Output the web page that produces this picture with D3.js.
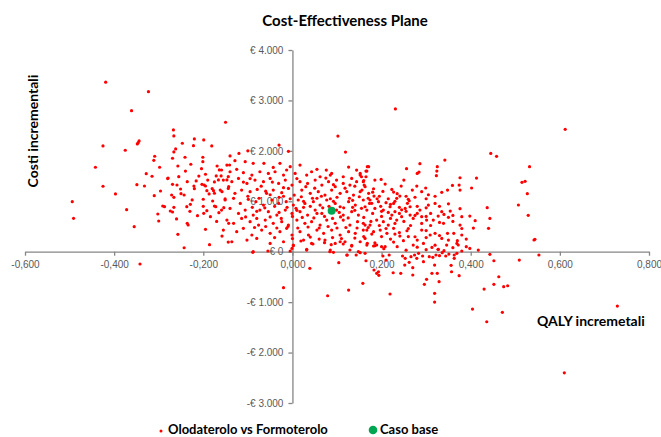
<!DOCTYPE html>
<html><head><meta charset="utf-8">
<script src="https://cdn.jsdelivr.net/npm/d3@7"></script>
<style>body{margin:0;background:#fff}svg{display:block}</style>
</head><body>
<svg id="chart" width="661" height="437"></svg>
<script>
const chartTitle = "Cost-Effectiveness Plane";
const yAxisTitle = "Costi incrementali";
const xAxisTitle = "QALY incremetali";
const seriesNames = ["Olodaterolo vs Formoterolo", "Caso base"];
const xTickValues = [-0.6, -0.4, -0.2, 0, 0.2, 0.4, 0.6, 0.8];
const xTickLabels = ["-0,600", "-0,400", "-0,200", "0,000", "0,200", "0,400", "0,600", "0,800"];
const yTickValues = [4000, 3000, 2000, 1000, 0, -1000, -2000, -3000];
const yTickLabels = ["€ 4.000", "€ 3.000", "€ 2.000", "€ 1.000", "€ 0", "-€ 1.000", "-€ 2.000", "-€ 3.000"];
const baseCase = [[0.088, 810]];
// PSA simulations: [incremental QALY, incremental cost]
const psaPoints = [
[-0.419,3361],[-0.323,3174],[-0.361,2797],[-0.150,2567],[-0.267,2415],[-0.266,2296],[-0.220,2236],[-0.199,2216],[-0.247,2151],[-0.344,2196],[-0.348,2137],[-0.346,2163],[-0.425,2097],[-0.222,2103],[-0.181,2097],[-0.262,2038],[-0.375,2012],[-0.266,1978],[-0.309,1893],[-0.241,1873],[-0.201,1873],[-0.311,1813],[-0.269,1853],[-0.228,1734],[-0.201,1786],[-0.257,1700],[-0.298,1675],[-0.442,1675],[-0.204,1647],[-0.169,1700],[-0.141,1720],[-0.328,1548],[-0.195,1536],[-0.164,1621],[-0.315,1496],[-0.279,1462],[-0.255,1488],[-0.171,1502],[-0.160,1502],[-0.166,1423],[-0.144,1488],[-0.236,1389],[-0.216,1403],[-0.269,1337],[-0.259,1323],[-0.221,1303],[-0.203,1337],[-0.198,1323],[-0.195,1303],[-0.175,1383],[-0.147,1423],[-0.425,1298],[-0.349,1329],[-0.332,1303],[-0.251,1244],[-0.143,1290],[-0.296,1204],[-0.192,1210],[-0.177,1210],[-0.175,1159],[-0.158,1190],[-0.397,1145],[-0.310,1111],[-0.271,1125],[-0.266,1079],[-0.243,1125],[-0.187,1145],[-0.494,992],[-0.225,1026],[-0.200,1040],[-0.179,1006],[-0.151,1046],[-0.266,881],[-0.291,907],[-0.287,893],[-0.237,893],[-0.229,940],[-0.175,907],[-0.172,893],[-0.154,873],[-0.372,833],[-0.274,807],[-0.269,788],[-0.192,813],[-0.199,762],[-0.165,774],[-0.302,748],[-0.213,714],[-0.184,694],[-0.491,663],[-0.300,609],[-0.236,563],[-0.234,530],[-0.143,563],[-0.355,496],[-0.195,444],[-0.257,345],[-0.158,311],[-0.186,139],[-0.144,192],[-0.243,79],[-0.342,-244],[-0.089,-12],[-0.055,14],
[-0.005,14],[0.002,119],[0.019,212],[0.039,-329],[0.032,48],[0.046,153],[-0.020,-714],[0.079,-873],[0.072,179],[0.084,0],[0.087,139],[0.104,-218],[0.092,-12],[0.107,198],[0.114,153],[0.123,-65],[0.126,-760],[0.129,34],[0.133,127],[0.143,-65],[0.152,-20],[0.158,-627],[0.163,-32],[0.165,-179],[0.168,167],[0.182,113],[0.189,133],[0.200,99],[0.183,-363],[0.189,-429],[0.194,-468],[0.193,-397],[0.203,-85],[0.210,-165],[0.217,-65],[0.219,-839],[0.226,-417],[0.243,-429],[0.247,-85],[0.253,-131],[0.252,-264],[0.262,-210],[0.266,-99],[0.274,-65],[0.279,-131],[0.270,-317],[0.270,-462],[0.283,-32],[0.292,-85],[0.294,-198],[0.296,-647],[0.301,-548],[0.307,-99],[0.315,-111],[0.313,-429],[0.319,-264],[0.319,-825],[0.319,-998],[0.325,-429],[0.327,48],[0.336,-20],[0.329,-595],[0.322,-65],[0.330,-79],[0.344,-85],[0.351,-46],[0.356,-270],[0.357,-397],[0.363,-65],[0.363,-131],[0.369,-32],[0.372,133],[0.370,218],[0.374,-476],[0.380,14],[0.404,-1137],[0.430,-740],[0.436,-1389],[0.443,-52],[0.452,-179],[0.452,-647],[0.463,-496],[0.471,-1202],[0.474,-694],[0.483,-675],[0.509,-165],[0.542,232],[0.553,-65],[0.729,-1077],[0.610,-2401],
[0.102,2294],[-0.030,2115],[0.119,1976],[-0.009,1990],[0.171,1686],
[-0.129,1805],[-0.106,1785],[-0.088,1752],[-0.147,1719],[-0.064,1752],[-0.043,1672],[-0.028,1752],[-0.005,1686],[0.017,1719],[0.055,1633],[0.076,1619],[0.088,1553],[0.144,1619],[0.167,1600],[0.126,1679],
[-0.159,1620],[-0.140,1586],[-0.125,1633],[-0.110,1567],[-0.091,1520],[-0.073,1586],[-0.054,1553],[-0.039,1586],[-0.020,1520],[-0.013,1620],[0.006,1553],[0.032,1520],[0.043,1586],[0.062,1487],[0.085,1520],[0.099,1421],[0.114,1487],[0.133,1454],[0.152,1520],[0.165,1487],
[-0.155,1421],[-0.136,1388],[-0.121,1454],[-0.102,1355],[-0.084,1421],[-0.065,1388],[-0.050,1454],[-0.031,1355],[-0.016,1421],[-0.001,1322],[0.017,1388],[0.034,1355],[0.051,1421],[0.066,1322],[0.081,1388],[0.096,1289],[0.114,1355],[0.129,1322],[0.144,1388],[0.161,1322],
[-0.162,1223],[-0.144,1256],[-0.129,1157],[-0.114,1223],[-0.095,1190],[-0.079,1236],[-0.058,1157],[-0.043,1223],[-0.024,1170],[-0.009,1256],[0.004,1124],[0.021,1223],[0.040,1157],[0.058,1190],[0.073,1124],[0.088,1223],[0.107,1157],[0.122,1190],[0.137,1124],[0.156,1223],[0.171,1157],
[-0.151,1025],[-0.132,1058],[-0.117,958],[-0.099,1038],[-0.082,992],[-0.065,925],[-0.046,1025],[-0.031,958],[-0.014,992],[0.002,925],[0.013,1025],[0.028,958],[0.047,992],[0.062,925],[0.077,1025],[0.096,958],[0.107,892],[0.126,992],[0.141,925],[0.159,1025],[0.173,958],
[-0.159,826],[-0.140,859],[-0.121,760],[-0.106,826],[-0.088,727],[-0.073,826],[-0.054,793],[-0.035,727],[-0.016,826],[-0.001,760],[0.017,793],[0.034,727],[0.051,826],[0.066,760],[0.099,826],[0.114,727],[0.133,793],[0.148,727],[0.167,826],
[-0.147,628],[-0.132,562],[-0.114,661],[-0.095,595],[-0.076,529],[-0.061,628],[-0.043,562],[-0.024,595],[-0.009,529],[0.010,628],[0.028,562],[0.043,595],[0.062,529],[0.077,628],[0.096,562],[0.114,628],[0.129,529],[0.146,595],[0.163,529],
[-0.155,430],[-0.125,397],[-0.110,463],[-0.091,331],[-0.069,430],[-0.050,364],[-0.028,397],[-0.013,463],[-0.001,331],[0.017,397],[0.036,331],[0.055,430],[0.070,364],[0.088,430],[0.107,331],[0.126,397],[0.141,364],[0.159,430],
[-0.136,198],[-0.102,231],[-0.080,264],[-0.050,165],[-0.020,198],[0.002,132],[0.025,231],[0.043,165],[0.073,231],[0.096,165],[0.118,198],[0.133,112],[0.152,198],[0.167,132],
[-0.088,0],[-0.001,66],[0.032,33],[0.085,33],[0.122,-66],[0.148,0],
[0.445,1950],[0.458,1891],[0.286,1745],[0.342,1818],[0.256,1646],[0.280,1553],[0.284,1580],[0.325,1686],[0.324,1600],[0.323,1507],[0.168,1686],[0.165,1600],[0.413,1461],[0.376,1467],
[0.152,1553],[0.155,1487],[0.159,1388],[0.163,1289],[0.152,1190],[0.185,1421],[0.199,1434],[0.208,1342],[0.182,1249],[0.203,1196],[0.183,1104],[0.223,1236],[0.227,1183],[0.244,1302],[0.250,1421],[0.279,1302],[0.269,1223],[0.290,1190],[0.299,1263],[0.305,1130],[0.335,1177],[0.348,1223],[0.359,1315],[0.374,1322],[0.376,1223],[0.402,1263],[0.262,1011],[0.241,1104],[0.234,1058],[0.227,958],[0.210,972],[0.193,992],[0.174,1025],[0.163,892],[0.185,859],[0.204,826],[0.219,892],[0.230,793],[0.253,859],[0.264,892],[0.286,826],[0.305,925],[0.320,958],[0.335,793],[0.354,806],[0.376,853],[0.380,694],[0.398,707],[0.410,615],[0.437,873],[0.443,661],[0.440,463],[0.406,469],[0.376,529],[0.350,681],[0.339,562],[0.327,707],[0.316,628],[0.301,628],[0.290,694],[0.271,661],[0.264,727],[0.245,694],[0.234,628],[0.223,727],[0.215,529],[0.204,595],[0.189,628],[0.174,529],[0.159,562],[0.167,430],[0.182,397],[0.197,430],[0.212,364],[0.227,463],[0.241,311],[0.257,416],[0.275,297],[0.290,430],[0.309,331],[0.320,364],[0.335,264],[0.348,364],[0.362,364],[0.380,331],[0.163,264],[0.185,178],[0.208,99],[0.227,192],[0.249,218],[0.271,132],[0.294,165],[0.313,86],[0.327,46],[0.346,132],[0.369,165],[0.398,66],[0.417,33],
[0.532,1686],[0.515,1376],[0.522,1396],[0.527,1151],[0.507,926],[0.529,721],[0.544,245],[0.231,2831],[0.612,2427],
[-0.095,1450],[-0.070,1300],[-0.045,1380],[-0.020,1270],[0.010,1450],[0.030,1290],[0.050,1260],[0.075,1460],[0.092,1330],[0.118,1260],[0.140,1300],[0.160,1410],
[-0.100,1100],[-0.075,1060],[-0.050,1130],[-0.030,1080],[-0.005,1050],[0.020,1090],[0.045,1060],[0.065,1100],[0.085,1050],[0.100,1080],[0.128,1060],[0.150,1090],[0.170,1060],
[-0.090,880],[-0.062,870],[-0.040,900],[-0.012,880],[0.008,860],[0.025,880],[0.040,900],[0.068,870],[0.082,900],[0.115,870],[0.135,880],[0.155,860],
[-0.105,690],[-0.080,660],[-0.050,690],[-0.025,660],[0.000,700],[0.022,680],[0.048,670],[0.072,700],[0.090,660],[0.108,690],[0.125,670],[0.160,680],
[-0.085,480],[-0.060,500],[-0.035,470],[-0.010,500],[0.012,470],[0.035,490],[0.060,470],[0.080,500],[0.100,470],[0.120,480],[0.145,470],[0.170,480],
[-0.040,280],[0.000,260],[0.040,290],[0.060,250],[0.090,280],[0.110,260],[0.140,270],[0.160,300],
[0.180,1180],[0.195,1100],[0.215,1050],[0.235,1150],[0.255,1100],[0.275,1080],[0.300,1050],[0.320,1100],
[0.178,960],[0.198,900],[0.220,940],[0.240,880],[0.258,960],[0.280,900],[0.300,870],[0.330,900],[0.350,950],
[0.180,760],[0.200,700],[0.215,780],[0.240,760],[0.255,800],[0.280,760],[0.310,760],[0.340,740],[0.360,720],
[0.176,600],[0.195,520],[0.230,560],[0.250,600],[0.265,520],[0.290,560],[0.310,520],[0.330,580],[0.360,600],[0.380,460],
[0.178,350],[0.200,300],[0.220,250],[0.240,380],[0.260,300],[0.280,230],[0.300,280],[0.330,320],[0.350,230],[0.390,250],
[0.185,120],[0.205,60],[0.235,100],[0.255,30],[0.280,90],[0.300,40],[0.320,130],[0.340,20],[0.360,80],[0.390,100],
[-0.280,1450],[-0.240,1600],[-0.210,1500],[-0.190,1420],[-0.250,1150],[-0.220,1250],[-0.200,900],[-0.230,800],[-0.260,650],[-0.170,600],[-0.180,1250],[-0.120,1950],[-0.100,2000],[-0.140,1900],
[-0.110,1380],[-0.060,1200],[-0.020,1100],[0.025,1000],[0.055,1060],[0.092,1000],[0.135,1020],[-0.080,800],[-0.030,780],[0.010,820],[0.055,760],[0.105,780],[0.140,820],[0.190,1050],[0.230,1000],[0.260,1040],[0.200,800],[0.245,830],[0.275,720],[0.220,660],[0.300,700],[0.260,460],[0.300,420],[0.210,460],[0.230,350]
];

const svg = d3.select("#chart");
const x = d3.scaleLinear().domain([-0.6, 0.8]).range([25, 649]);
const y = d3.scaleLinear().domain([-3000, 4000]).range([403, 50]);
const axisColor = "#868686", labelColor = "#595959";
const tickFont = "'Liberation Sans', Arial, sans-serif";
const boldFont = "Lato, 'Open Sans', sans-serif";

// title
svg.append("text").attr("x", 345).attr("y", 26).attr("text-anchor", "middle")
  .attr("font-family", boldFont).attr("font-weight", "bold").attr("font-size", 15)
  .attr("fill", "#000").text(chartTitle);

// x axis (at cost = 0)
const xAxis = d3.axisBottom(x).tickValues(xTickValues)
  .tickFormat((d, i) => xTickLabels[i]).tickSizeOuter(0).tickSizeInner(4).tickPadding(5);
const gx = svg.append("g").attr("transform", `translate(0,${y(0)})`).call(xAxis);
// y axis (at QALY = 0)
const yAxis = d3.axisLeft(y).tickValues(yTickValues)
  .tickFormat((d, i) => yTickLabels[i]).tickSizeOuter(0).tickSizeInner(4).tickPadding(5);
const gy = svg.append("g").attr("transform", `translate(${x(0)},0)`).call(yAxis);
[gx, gy].forEach(g => {
  g.select(".domain").attr("stroke", axisColor).attr("stroke-width", 1.3);
  g.selectAll(".tick line").attr("stroke", axisColor).attr("stroke-width", 1.3);
  g.selectAll(".tick text").attr("fill", labelColor).attr("font-family", tickFont).attr("font-size", 10);
});

// axis titles
svg.append("text").attr("transform", `translate(38,131) rotate(-90)`).attr("text-anchor", "middle")
  .attr("font-family", boldFont).attr("font-weight", "bold").attr("font-size", 14).attr("fill", "#000")
  .text(yAxisTitle);
svg.append("text").attr("x", 537).attr("y", 326)
  .attr("font-family", boldFont).attr("font-weight", "bold").attr("font-size", 14).attr("fill", "#000")
  .text(xAxisTitle);

// points
svg.append("g").selectAll("circle").data(psaPoints).join("circle")
  .attr("cx", d => x(d[0])).attr("cy", d => y(d[1])).attr("r", 1.6).attr("fill", "#ff0000");
svg.append("g").selectAll("circle").data(baseCase).join("circle")
  .attr("cx", d => x(d[0])).attr("cy", d => y(d[1])).attr("r", 4).attr("fill", "#00a651");

// legend
const lg = svg.append("g");
lg.append("circle").attr("cx", 161).attr("cy", 431).attr("r", 1.5).attr("fill", "#ff0000");
lg.append("text").attr("x", 168).attr("y", 434).attr("font-family", boldFont).attr("font-weight", "bold")
  .attr("font-size", 13).attr("fill", "#000").text(seriesNames[0]);
lg.append("circle").attr("cx", 373).attr("cy", 430).attr("r", 4.3).attr("fill", "#00a651");
lg.append("text").attr("x", 380).attr("y", 434).attr("font-family", boldFont).attr("font-weight", "bold")
  .attr("font-size", 13).attr("fill", "#000").text(seriesNames[1]);
</script>
</body></html>
